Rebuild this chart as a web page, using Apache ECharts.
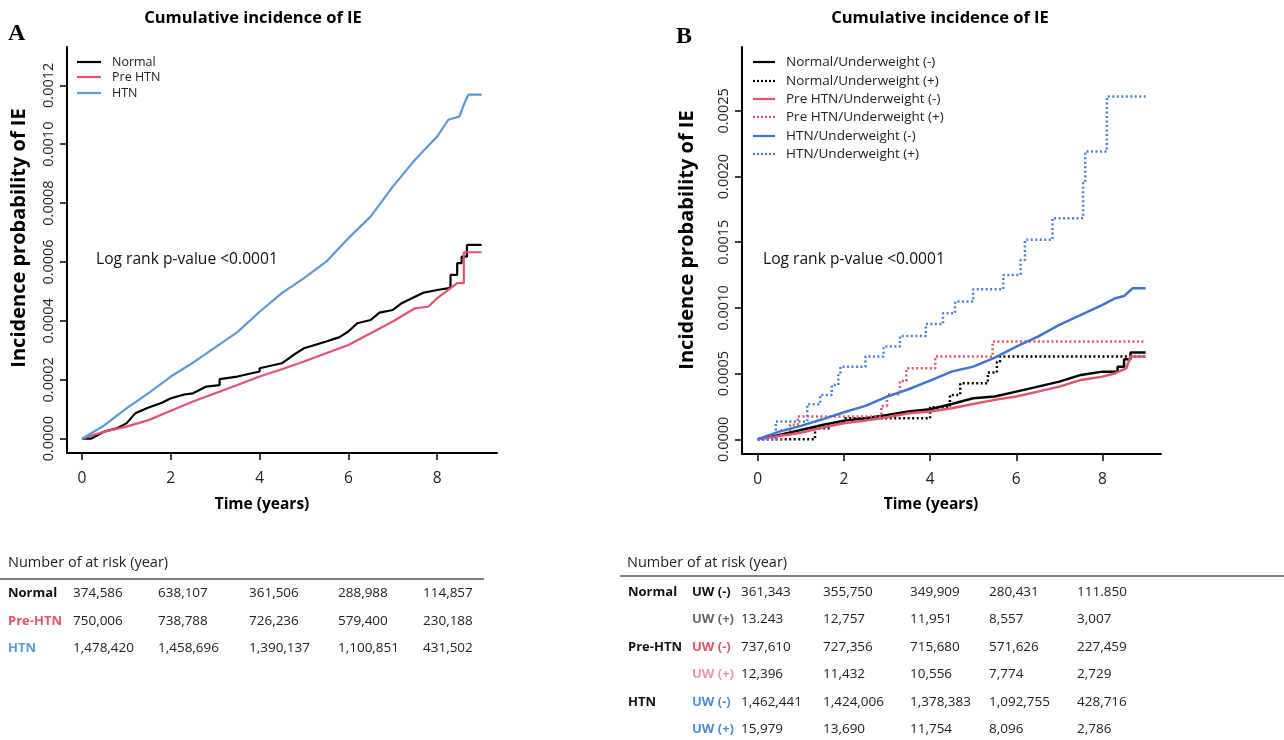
<!DOCTYPE html>
<html>
<head>
<meta charset="utf-8">
<script src="https://cdn.jsdelivr.net/npm/echarts@6.0.0/dist/echarts.min.js"></script>
<style>
  html, body { margin: 0; padding: 0; background: #fff; }
  #main { width: 1284px; height: 740px; }
</style>
</head>
<body>
<div id="main"></div>
<script>
// ---- panel A curves: [year, cumulative incidence], vertical jumps written as repeated x ----
const normalA = [[0,0],[0.2,0],[0.5,0.000024],[0.8,0.000036],[1.0,0.000052],[1.2,0.000086],[1.5,0.000106],[1.8,0.000122],[2.0,0.000137],[2.3,0.000150],[2.5,0.000154],[2.8,0.000177],[3.1,0.000182],[3.1,0.000202],[3.5,0.000211],[4.0,0.000228],[4.0,0.000239],[4.5,0.000256],[4.8,0.000288],[5.0,0.000307],[5.5,0.000330],[5.8,0.000345],[6.0,0.000364],[6.2,0.000392],[6.5,0.000403],[6.7,0.000428],[7.0,0.000437],[7.2,0.000460],[7.5,0.000482],[7.7,0.000496],[8.0,0.000505],[8.3,0.000512],[8.3,0.000556],[8.45,0.000556],[8.45,0.000596],[8.55,0.000596],[8.55,0.000618],[8.67,0.000618],[8.67,0.000658],[9.0,0.000658]];
const preA = [[0,0],[0.5,0.000024],[1.0,0.000041],[1.5,0.000063],[2.0,0.000095],[2.5,0.000126],[3.0,0.000154],[3.5,0.000182],[4.0,0.000211],[4.5,0.000236],[5.0,0.000262],[5.5,0.000290],[6.0,0.000318],[6.5,0.000358],[7.0,0.000398],[7.5,0.000443],[7.8,0.000448],[8.0,0.000477],[8.25,0.000505],[8.45,0.000528],[8.6,0.000528],[8.6,0.000633],[9.0,0.000633]];
const htnA = [[0,0],[0.5,0.000045],[1.0,0.000103],[1.5,0.000155],[2.0,0.000211],[2.5,0.000258],[3.0,0.000310],[3.5,0.000362],[4.0,0.000431],[4.5,0.000494],[5.0,0.000545],[5.5,0.000601],[6.0,0.000681],[6.5,0.000754],[7.0,0.000856],[7.5,0.000947],[8.0,0.001026],[8.25,0.001083],[8.5,0.001094],[8.6,0.001134],[8.7,0.001168],[9.0,0.001168]];

// ---- panel B curves (solid ones drawn as polylines, dotted ones as steps) ----
const normUwNeg = [[0,0],[0.5,0.000033],[1.0,0.000071],[1.5,0.000109],[2.0,0.000142],[2.5,0.000160],[3.0,0.000185],[3.5,0.000211],[4.0,0.000228],[4.5,0.000269],[5.0,0.000312],[5.5,0.000325],[6.0,0.000363],[6.5,0.000401],[7.0,0.000439],[7.5,0.000490],[8.0,0.000515],[8.35,0.000515],[8.35,0.000553],[8.5,0.000553],[8.5,0.000610],[8.65,0.000610],[8.65,0.000660],[9.0,0.000660]];
const normUwPos = [[0,0],[1.33,0.000084],[1.7,0.000122],[2.0,0.000160],[4.0,0.000244],[4.46,0.000338],[4.7,0.000426],[5.34,0.000508],[5.55,0.000591],[5.62,0.000630],[9.0,0.000630]];
const preUwNeg = [[0,0],[0.5,0.000025],[1.0,0.000050],[1.5,0.000089],[2.0,0.000122],[2.5,0.000142],[3.0,0.000168],[3.5,0.000198],[4.0,0.000211],[4.5,0.000236],[5.0,0.000269],[5.5,0.000300],[6.0,0.000325],[6.5,0.000363],[7.0,0.000401],[7.5,0.000452],[8.0,0.000477],[8.3,0.000503],[8.55,0.000540],[8.65,0.000630],[9.0,0.000630]];
const preUwPos = [[0,0],[0.55,0.000070],[0.75,0.000110],[0.93,0.000173],[2.87,0.000254],[3.0,0.000343],[3.3,0.000444],[3.45,0.000540],[4.12,0.000630],[5.45,0.000744],[9.0,0.000744]];
const htnUwNeg = [[0,0],[0.5,0.000058],[1.0,0.000102],[1.5,0.000152],[2.0,0.000206],[2.5,0.000254],[3.0,0.000325],[3.5,0.000381],[4.0,0.000447],[4.5,0.000515],[5.0,0.000553],[5.5,0.000622],[6.0,0.000706],[6.5,0.000782],[7.0,0.000871],[7.5,0.000947],[8.0,0.001023],[8.3,0.001074],[8.5,0.001090],[8.7,0.001150],[9.0,0.001150]];
const htnUwPos = [[0,0],[0.42,0.000135],[1.15,0.000266],[1.45,0.000338],[1.72,0.000414],[1.87,0.000490],[1.92,0.000553],[2.5,0.000630],[2.92,0.000706],[3.3,0.000787],[3.9,0.000878],[4.3,0.000960],[4.58,0.001048],[5.0,0.001142],[5.7,0.001251],[6.1,0.001365],[6.2,0.001518],[6.84,0.001683],[7.55,0.001950],[7.6,0.002190],[8.1,0.002610],[9.0,0.002610]];

// ---- tick labels ----
const xTicks = [0, 2, 4, 6, 8];
const yTicksA = [0, 0.0002, 0.0004, 0.0006, 0.0008, 0.001, 0.0012];
const yTicksB = [0, 0.0005, 0.001, 0.0015, 0.002, 0.0025];

// ---- number at risk ----
const riskGroupsA = ['Normal', 'Pre-HTN', 'HTN'];
const riskNormalA = ['374,586', '638,107', '361,506', '288,988', '114,857'];
const riskPreA = ['750,006', '738,788', '726,236', '579,400', '230,188'];
const riskHtnA = ['1,478,420', '1,458,696', '1,390,137', '1,100,851', '431,502'];

const riskGroupsB = ['Normal', '', 'Pre-HTN', '', 'HTN', ''];
const riskUwB = ['UW (-)', 'UW (+)', 'UW (-)', 'UW (+)', 'UW (-)', 'UW (+)'];
const riskNormNegB = ['361,343', '355,750', '349,909', '280,431', '111.850'];
const riskNormPosB = ['13.243', '12,757', '11,951', '8,557', '3,007'];
const riskPreNegB = ['737,610', '727,356', '715,680', '571,626', '227,459'];
const riskPrePosB = ['12,396', '11,432', '10,556', '7,774', '2,729'];
const riskHtnNegB = ['1,462,441', '1,424,006', '1,378,383', '1,092,755', '428,716'];
const riskHtnPosB = ['15,979', '13,690', '11,754', '8,096', '2,786'];

const namesA = ['Normal', 'Pre HTN', 'HTN'];
const namesB = ['Normal/Underweight (-)', 'Normal/Underweight (+)', 'Pre HTN/Underweight (-)',
  'Pre HTN/Underweight (+)', 'HTN/Underweight (-)', 'HTN/Underweight (+)'];

const FONT = 'Open Sans';
const RED = '#e2536c';
const BLUE_A = '#5b9ad8';
const BLUE_B = '#3f74d0';
const BLUE_B2 = '#4a80d8';

const chart = echarts.init(document.getElementById('main'));

function xAxisCfg(gi, min, max) {
  return {
    type: 'value', gridIndex: gi, min: min, max: max,
    splitLine: { show: false },
    axisLine: { onZero: false, lineStyle: { color: '#000', width: 2 } },
    axisTick: { customValues: xTicks, length: 7, lineStyle: { color: '#000', width: 1.5 } },
    axisLabel: { customValues: xTicks, margin: 18, fontSize: 15.5, color: '#222', fontFamily: FONT }
  };
}
function yAxisCfg(gi, min, max, ticks) {
  return {
    type: 'value', gridIndex: gi, min: min, max: max,
    splitLine: { show: false },
    axisLine: { onZero: false, lineStyle: { color: '#000', width: 2 } },
    axisTick: { customValues: ticks, length: 7, lineStyle: { color: '#000', width: 1.5 } },
    axisLabel: {
      customValues: ticks, rotate: 90, margin: 11, fontSize: 14.5, color: '#222', fontFamily: FONT,
      formatter: v => v.toFixed(4)
    }
  };
}
function curve(name, data, xi, color, width, dotted) {
  return {
    name: name, type: 'line', step: dotted ? 'end' : false, data: data,
    xAxisIndex: xi, yAxisIndex: xi, symbol: 'none', silent: true,
    lineStyle: { color: color, width: width, type: dotted ? [2, 2.5] : 'solid' },
    itemStyle: { color: color }
  };
}

// text helper for graphic layer
function txt(x, y, s, o) {
  return {
    type: 'text', x: x, y: y, silent: true,
    style: Object.assign({ text: s, fontFamily: FONT, fontSize: 13.5, fill: '#222',
      verticalAlign: 'middle', align: 'left' }, o || {})
  };
}
function legLine(x1, x2, y, color, dotted) {
  return { type: 'line', silent: true, shape: { x1: x1, y1: y, x2: x2, y2: y },
    style: { stroke: color, lineWidth: 2.2, lineDash: dotted ? [2, 2] : null } };
}

const graphics = [];
// panel letters and titles
graphics.push(txt(8, 34, 'A', { fontFamily: 'Liberation Serif', fontWeight: 'bold', fontSize: 24, fill: '#000' }));
graphics.push(txt(676, 37, 'B', { fontFamily: 'Liberation Serif', fontWeight: 'bold', fontSize: 24, fill: '#000' }));
graphics.push(txt(253, 18, 'Cumulative incidence of IE', { align: 'center', fontWeight: 'bold', fontSize: 16.5, fill: '#000' }));
graphics.push(txt(940, 18, 'Cumulative incidence of IE', { align: 'center', fontWeight: 'bold', fontSize: 16.5, fill: '#000' }));
// axis titles
graphics.push(txt(262, 505, 'Time (years)', { align: 'center', fontWeight: 'bold', fontSize: 15.5, fill: '#000' }));
graphics.push(txt(931, 505, 'Time (years)', { align: 'center', fontWeight: 'bold', fontSize: 15.5, fill: '#000' }));
[[19, 238], [687, 240]].forEach(p => graphics.push({
  type: 'text', x: p[0], y: p[1], rotation: Math.PI / 2, silent: true,
  style: { text: 'Incidence probability of IE', fontFamily: FONT, fontWeight: 'bold', fontSize: 20,
    fill: '#000', align: 'center', verticalAlign: 'middle' } }));
// log rank
graphics.push(txt(96, 260, 'Log rank p-value <0.0001', { fontSize: 15.6, fill: '#111' }));
graphics.push(txt(763, 260, 'Log rank p-value <0.0001', { fontSize: 15.6, fill: '#111' }));

// legends
const legColA = ['#000', RED, BLUE_A];
const legYA = [62, 77, 93];
namesA.forEach((n, i) => {
  graphics.push(legLine(77, 101, legYA[i], legColA[i], false));
  graphics.push(txt(112, legYA[i], n, { fontSize: 12.5 }));
});
const legColB = ['#000', '#000', RED, RED, BLUE_B, BLUE_B2];
const legYB = [62, 81, 99, 117, 136, 154];
namesB.forEach((n, i) => {
  graphics.push(legLine(753, 775, legYB[i], legColB[i], i % 2 === 1));
  graphics.push(txt(786, legYB[i], n, { fontSize: 13.5 }));
});

// at-risk table A
const colsA = [73, 158, 249, 338, 423];
const rowsA = [593, 621, 648];
const groupColA = ['#111', RED, BLUE_A];
graphics.push(txt(8, 563, 'Number of at risk (year)', { fontSize: 14.5 }));
graphics.push({ type: 'line', silent: true, shape: { x1: 0, y1: 579, x2: 484, y2: 579 },
  style: { stroke: '#555', lineWidth: 1.5 } });
[riskNormalA, riskPreA, riskHtnA].forEach((row, i) => {
  graphics.push(txt(8, rowsA[i], riskGroupsA[i], { fontWeight: 'bold', fill: groupColA[i], fontSize: 13 }));
  row.forEach((v, j) => graphics.push(txt(colsA[j], rowsA[i], v)));
});

// at-risk table B
const colsB = [741, 823, 910, 989, 1077];
const rowsB = [592, 619, 647, 674, 702, 729];
const uwColB = ['#111', '#666', RED, '#ee96a6', '#4a8fd6', '#4a8fd6'];
graphics.push(txt(627, 563, 'Number of at risk (year)', { fontSize: 14.5 }));
graphics.push({ type: 'line', silent: true, shape: { x1: 620, y1: 576, x2: 1284, y2: 576 },
  style: { stroke: '#555', lineWidth: 1.5 } });
[riskNormNegB, riskNormPosB, riskPreNegB, riskPrePosB, riskHtnNegB, riskHtnPosB].forEach((row, i) => {
  if (riskGroupsB[i]) graphics.push(txt(628, rowsB[i], riskGroupsB[i], { fontWeight: 'bold', fill: '#111', fontSize: 13 }));
  graphics.push(txt(692, rowsB[i], riskUwB[i], { fontWeight: 'bold', fill: uwColB[i], fontSize: 13 }));
  row.forEach((v, j) => graphics.push(txt(colsB[j], rowsB[i], v)));
});

chart.setOption({
  animation: false,
  backgroundColor: '#fff',
  grid: [
    { left: 67, top: 47, width: 430, height: 406 },
    { left: 742, top: 47, width: 419, height: 407 }
  ],
  xAxis: [xAxisCfg(0, -0.338, 9.347), xAxisCfg(1, -0.364, 9.357)],
  yAxis: [yAxisCfg(0, -0.0000486, 0.00133, yTicksA), yAxisCfg(1, -0.000112, 0.002986, yTicksB)],
  series: [
    curve(namesA[0], normalA, 0, '#000', 2.2, false),
    curve(namesA[1], preA, 0, RED, 2.2, false),
    curve(namesA[2], htnA, 0, BLUE_A, 2.2, false),
    curve(namesB[0], normUwNeg, 1, '#000', 2.5, false),
    curve(namesB[1], normUwPos, 1, '#000', 2.5, true),
    curve(namesB[2], preUwNeg, 1, RED, 2.5, false),
    curve(namesB[3], preUwPos, 1, RED, 2.5, true),
    curve(namesB[4], htnUwNeg, 1, BLUE_B, 2.5, false),
    curve(namesB[5], htnUwPos, 1, BLUE_B2, 2.5, true)
  ],
  graphic: graphics
});
</script>
</body>
</html>
